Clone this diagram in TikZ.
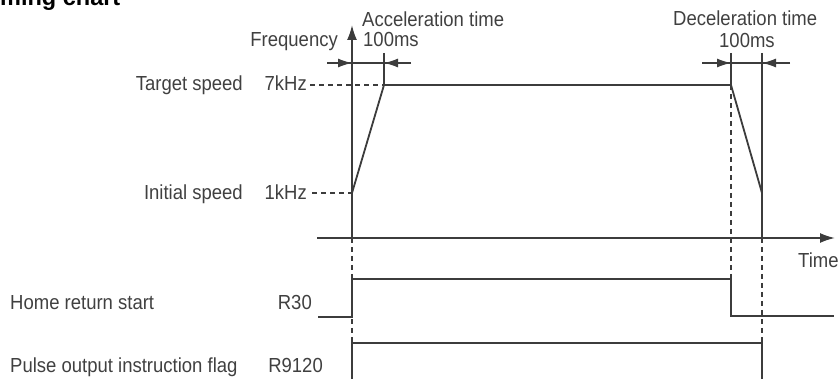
\documentclass[tikz,border=0pt]{standalone}
\usepackage{fontspec}
\setmainfont{Liberation Sans}
\usetikzlibrary{arrows.meta}
\definecolor{ink}{HTML}{3C3C3C}
\definecolor{txt}{HTML}{404040}
\newcommand\tallt[1]{\scalebox{1}[1.1]{#1}}
\tikzset{
  lbl/.style={inner sep=0pt, text=txt, font=\fontsize{18.5}{20}\selectfont},
  wave/.style={draw=ink, line width=1.8pt, line join=miter},
  guide/.style={draw=ink, line width=1.1pt, dash pattern=on 5pt off 4pt},
  axis/.style={draw=ink, line width=1.8pt, -{Latex[length=15pt,width=10pt]}},
  dim/.style={draw=ink, line width=1.3pt, -{Latex[length=14pt,width=9pt]}},
  plain/.style={draw=ink, line width=1.3pt}
}
\begin{document}
\begin{tikzpicture}[x=1pt,y=-1pt]
\useasboundingbox (0,0) rectangle (839,379);
% title (cropped)
\node[lbl, anchor=base west, font=\bfseries\fontsize{23.5}{25}\selectfont, text=black] (title) at (0,6) {ming chart};
% coordinates
\coordinate (o) at (352,238);
\coordinate (ytop) at (352,25);
\coordinate (tl) at (317,238);
\coordinate (tr) at (835,238);
\coordinate (p0) at (352,193);
\coordinate (p1) at (384,85);
\coordinate (p2) at (731,85);
\coordinate (p3) at (762,193);
\coordinate (p4) at (762,238);
\coordinate (a1) at (384,53);
\coordinate (d1) at (731,53);
\coordinate (d2) at (762,53);
% labels
\node[lbl, anchor=base east] (freq) at (338,47) {\tallt{Frequency}};
\node[lbl, anchor=base west] (acc) at (362,27) {\tallt{Acceleration time}};
\node[lbl, anchor=base west] (acct) at (363,47) {\tallt{100ms}};
\node[lbl, anchor=base west] (dec) at (673,26) {\tallt{Deceleration time}};
\node[lbl, anchor=base west] (dect) at (719,48) {\tallt{100ms}};
\node[lbl, anchor=base east] (tgt) at (243,91) {\tallt{Target speed}};
\node[lbl, anchor=base east] (f7) at (307,91) {\tallt{7kHz}};
\node[lbl, anchor=base east] (ini) at (243,200) {\tallt{Initial speed}};
\node[lbl, anchor=base east] (f1) at (307,200) {\tallt{1kHz}};
\node[lbl, anchor=base west] (time) at (798,268) {\tallt{Time}};
\node[lbl, anchor=base west] (hrs) at (10,310) {\tallt{Home return start}};
\node[lbl, anchor=base east] (r30) at (312,310) {\tallt{R30}};
\node[lbl, anchor=base west] (pof) at (10,373) {\tallt{Pulse output instruction flag}};
\node[lbl, anchor=base east] (r9120) at (323,373) {\tallt{R9120}};
% dashed guides
\draw[guide] (f7.east |- p1) ++(3,0) -- (p1);
\draw[guide] (f1.east |- p0) ++(5,0) -- (p0);
\draw[guide] (o) -- (352,343);
\draw[guide] (p2) -- (731,279);
\draw[guide] (p4) -- (762,343);
% axes
\draw[axis] (o) -- (ytop);
\draw[axis] (tl) -- (tr);
% speed profile
\draw[wave] (p0) -- (p1) -- (p2) -- (p3) -- (p4);
% time markers
\draw[plain] (a1) -- (p1);
\draw[plain] (d1) -- (p2);
\draw[plain] (d2) -- (p3);
\draw[plain] (327,63) -- (411,63);
\draw[plain] (702,63) -- (790,63);
\draw[dim] (327,63) -- (352,63);
\draw[dim] (411,63) -- (384,63);
\draw[dim] (702,63) -- (731,63);
\draw[dim] (790,63) -- (762,63);
% R30
\draw[wave] (318,317) -- (352,317) -- (352,279) -- (731,279) -- (731,316) -- (834,316);
% R9120
\draw[wave] (352,381) -- (352,343) -- (762,343) -- (762,381);
\end{tikzpicture}
\end{document}
